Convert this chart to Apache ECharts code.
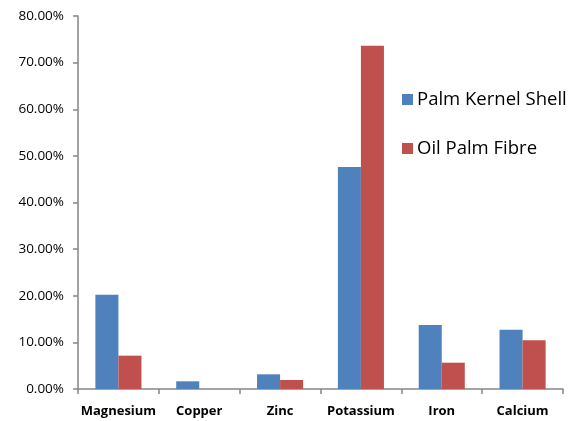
<!DOCTYPE html>
<html>
<head>
<meta charset="utf-8">
<script src="https://cdn.jsdelivr.net/npm/echarts@6/dist/echarts.min.js"></script>
<style>
  html, body { margin: 0; padding: 0; background: #fff; }
  #chart { width: 579px; height: 421px; }
</style>
</head>
<body>
<div id="chart"></div>
<script>
// Element content (fraction of total) in two biomass residues
const categories = ['Magnesium', 'Copper', 'Zinc', 'Potassium', 'Iron', 'Calcium'];
const palmKernelShell = [0.202, 0.0165, 0.0315, 0.476, 0.137, 0.127];
const oilPalmFibre = [0.0715, 0, 0.0193, 0.736, 0.0564, 0.1045];
const seriesNames = ['Palm Kernel Shell', 'Oil Palm Fibre'];

const axisColor = '#868686';
const font = '"Open Sans", "Liberation Sans", Arial, sans-serif';

const chart = echarts.init(document.getElementById('chart'), null, { renderer: 'canvas' });
chart.setOption({
  animation: false,
  backgroundColor: '#ffffff',
  grid: { left: 78, right: 16, top: 16, bottom: 32, containLabel: false },
  legend: {
    orient: 'vertical',
    left: 397,
    top: 85,
    itemWidth: 11,
    itemHeight: 11,
    itemGap: 30,
    icon: 'rect',
    itemStyle: { borderWidth: 0 },
    textStyle: { fontFamily: font, fontSize: 18.5, color: '#000', padding: [0, 0, 0, -1] },
    data: seriesNames
  },
  xAxis: {
    type: 'category',
    data: categories,
    axisLine: { lineStyle: { color: axisColor, width: 1.5 } },
    axisTick: { show: true, length: 5, interval: 0, lineStyle: { color: axisColor, width: 1.5 } },
    axisLabel: { interval: 0, fontFamily: font, fontSize: 13, fontWeight: 'bold', color: '#000', margin: 16 },
    splitLine: { show: false }
  },
  yAxis: {
    type: 'value',
    min: 0,
    max: 0.8,
    interval: 0.1,
    axisLine: { show: true, lineStyle: { color: axisColor, width: 1.5 } },
    axisTick: { show: true, length: 5, lineStyle: { color: axisColor, width: 1.5 } },
    axisLabel: {
      fontFamily: font, fontSize: 13.5, color: '#000', margin: 14,
      formatter: v => (v * 100).toFixed(2) + '%'
    },
    splitLine: { show: false }
  },
  series: [
    {
      name: seriesNames[0],
      type: 'bar',
      data: palmKernelShell,
      barGap: '0%',
      barCategoryGap: '43%',
      itemStyle: { color: '#4F81BD' }
    },
    {
      name: seriesNames[1],
      type: 'bar',
      data: oilPalmFibre,
      barGap: '0%',
      barCategoryGap: '43%',
      itemStyle: { color: '#C0504D' }
    }
  ]
});
</script>
</body>
</html>
